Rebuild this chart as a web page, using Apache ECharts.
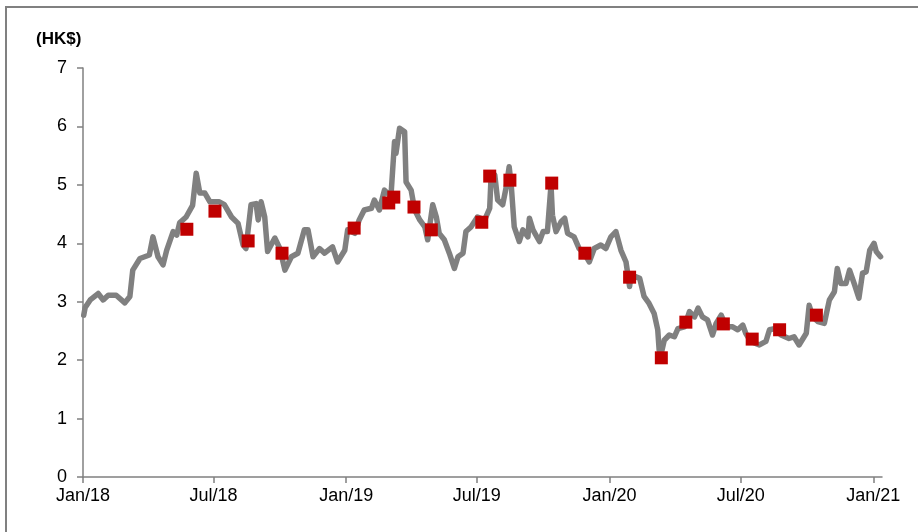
<!DOCTYPE html>
<html>
<head>
<meta charset="utf-8">
<script src="https://cdn.jsdelivr.net/npm/echarts@6/dist/echarts.min.js"></script>
<style>
  html, body { margin: 0; padding: 0; background: #fff; }
  #diagram { width: 918px; height: 532px; }
</style>
</head>
<body>
<div id="diagram"></div>
<script>
// share price (HK$)
var priceDates = [
  '2018-01-02','2018-01-04','2018-01-11','2018-01-22','2018-01-29','2018-02-05','2018-02-16','2018-02-28',
  '2018-03-07','2018-03-11','2018-03-21','2018-04-03','2018-04-08','2018-04-15','2018-04-22','2018-04-27',
  '2018-05-06','2018-05-11','2018-05-15','2018-05-24','2018-06-02','2018-06-07','2018-06-12','2018-06-19',
  '2018-06-26','2018-07-09','2018-07-16','2018-07-26','2018-08-04','2018-08-11','2018-08-15','2018-08-22',
  '2018-08-29','2018-09-01','2018-09-05','2018-09-10','2018-09-14','2018-09-24','2018-10-01','2018-10-08',
  '2018-10-17','2018-10-26','2018-11-04','2018-11-09','2018-11-16','2018-11-25','2018-12-02','2018-12-13',
  '2018-12-20','2018-12-30','2019-01-03','2019-01-13','2019-01-19','2019-01-26','2019-02-05','2019-02-09',
  '2019-02-16','2019-02-23','2019-03-04','2019-03-09','2019-03-11','2019-03-16','2019-03-23','2019-03-25',
  '2019-04-01','2019-04-06','2019-04-13','2019-04-20','2019-04-24','2019-05-01','2019-05-06','2019-05-10',
  '2019-05-17','2019-05-24','2019-05-31','2019-06-05','2019-06-12','2019-06-16','2019-06-23','2019-07-02',
  '2019-07-12','2019-07-19','2019-07-21','2019-07-26','2019-07-30','2019-08-06','2019-08-11','2019-08-15',
  '2019-08-18','2019-08-22','2019-08-29','2019-09-03','2019-09-10','2019-09-12','2019-09-17','2019-09-26',
  '2019-10-01','2019-10-07','2019-10-12','2019-10-14','2019-10-19','2019-10-26','2019-10-31','2019-11-04',
  '2019-11-13','2019-11-20','2019-11-27','2019-12-04','2019-12-11','2019-12-20','2019-12-27','2020-01-03',
  '2020-01-10','2020-01-17','2020-01-24','2020-01-29','2020-01-31','2020-02-12','2020-02-18','2020-02-25',
  '2020-03-03','2020-03-08','2020-03-10','2020-03-13','2020-03-17','2020-03-24','2020-03-31','2020-04-05',
  '2020-04-07','2020-04-14','2020-04-21','2020-04-28','2020-05-03','2020-05-09','2020-05-16','2020-05-23',
  '2020-05-28','2020-06-04','2020-06-11','2020-06-20','2020-06-27','2020-07-04','2020-07-08','2020-07-15',
  '2020-07-27','2020-08-05','2020-08-10','2020-08-17','2020-08-26','2020-09-06','2020-09-13','2020-09-20',
  '2020-09-30','2020-10-04','2020-10-09','2020-10-16','2020-10-25','2020-11-01','2020-11-08','2020-11-12',
  '2020-11-17','2020-11-24','2020-11-29','2020-12-06','2020-12-12','2020-12-17','2020-12-22','2020-12-27',
  '2021-01-02','2021-01-05','2021-01-11'
];
var priceValues = [
  2.77, 2.90, 3.03, 3.14, 3.03, 3.11, 3.11, 2.98,
  3.09, 3.54, 3.74, 3.80, 4.11, 3.77, 3.63, 3.88,
  4.20, 4.14, 4.35, 4.45, 4.65, 5.20, 4.86, 4.86,
  4.71, 4.71, 4.66, 4.45, 4.34, 3.97, 3.91, 4.66,
  4.68, 4.40, 4.71, 4.45, 3.86, 4.09, 3.91, 3.54,
  3.77, 3.83, 4.23, 4.23, 3.77, 3.91, 3.83, 3.94,
  3.68, 3.88, 4.23, 4.17, 4.40, 4.57, 4.60, 4.74,
  4.57, 4.91, 4.80, 5.74, 5.54, 5.97, 5.91, 5.05,
  4.91, 4.57, 4.40, 4.28, 4.06, 4.66, 4.45, 4.17,
  4.06, 3.83, 3.57, 3.77, 3.83, 4.20, 4.28, 4.45,
  4.40, 4.60, 5.17, 5.17, 4.74, 4.66, 4.97, 5.31,
  4.97, 4.28, 4.03, 4.23, 4.11, 4.43, 4.23, 4.03,
  4.20, 4.20, 5.00, 4.48, 4.20, 4.37, 4.43, 4.17,
  4.11, 3.91, 3.83, 3.68, 3.91, 3.97, 3.91, 4.11,
  4.20, 3.88, 3.68, 3.26, 3.46, 3.40, 3.09, 2.97,
  2.80, 2.52, 2.17, 2.12, 2.34, 2.43, 2.40, 2.54,
  2.52, 2.57, 2.83, 2.74, 2.89, 2.74, 2.69, 2.43,
  2.63, 2.77, 2.57, 2.57, 2.52, 2.60, 2.46, 2.32,
  2.26, 2.32, 2.52, 2.54, 2.43, 2.37, 2.40, 2.26,
  2.46, 2.94, 2.74, 2.66, 2.63, 3.03, 3.17, 3.57,
  3.31, 3.31, 3.54, 3.29, 3.06, 3.49, 3.51, 3.88,
  4.00, 3.86, 3.77
];

// red square markers
var markDates = [
  '2018-05-25','2018-07-03','2018-08-18','2018-10-04','2019-01-12','2019-03-01','2019-03-08',
  '2019-04-05','2019-04-29','2019-07-08','2019-07-19','2019-08-16','2019-10-13','2019-11-28',
  '2020-01-29','2020-03-13','2020-04-16','2020-06-07','2020-07-17','2020-08-24','2020-10-14'
];
var markValues = [
  4.24, 4.55, 4.04, 3.83, 4.26, 4.69, 4.79,
  4.62, 4.23, 4.36, 5.15, 5.08, 5.03, 3.83,
  3.42, 2.04, 2.65, 2.62, 2.36, 2.52, 2.77
];

var xTickDates = ['2018-01-01', '2018-07-01', '2019-01-01', '2019-07-01', '2020-01-01', '2020-07-01', '2021-01-01'];
var xTickLabels = ['Jan/18', 'Jul/18', 'Jan/19', 'Jul/19', 'Jan/20', 'Jul/20', 'Jan/21'];

// days since 1 Jan 2018
function toDay(s) {
  return (Date.parse(s) - Date.parse('2018-01-01')) / 86400000;
}
function pairs(dates, vals) {
  return dates.map(function (d, i) { return [toDay(d), vals[i]]; });
}
var xTickDays = xTickDates.map(toDay);

var myChart = echarts.init(document.getElementById('diagram'));
var fontFam = 'Liberation Sans, Arial, sans-serif';

var option = {
  animation: false,
  backgroundColor: '#fff',
  grid: { left: 83, right: 36, top: 68, bottom: 55 },
  graphic: [
    {
      type: 'rect',
      shape: { x: 6, y: 7, width: 930, height: 540 },
      style: { fill: 'none', stroke: '#808080', lineWidth: 2 }
    },
    {
      type: 'text',
      left: 36, top: 31,
      style: { text: '(HK$)', font: 'bold 17px ' + fontFam, fill: '#000' }
    }
  ],
  xAxis: {
    type: 'value',
    min: 0,
    max: 1108,
    axisLine: { lineStyle: { color: '#808080', width: 1.5 } },
    axisTick: { show: true, length: 6, customValues: xTickDays, lineStyle: { color: '#808080', width: 1.5 } },
    splitLine: { show: false },
    axisLabel: {
      margin: 10,
      color: '#000',
      fontSize: 18,
      fontFamily: fontFam,
      customValues: xTickDays,
      formatter: function (v) {
        var i = xTickDays.indexOf(v);
        return i >= 0 ? xTickLabels[i] : '';
      }
    }
  },
  yAxis: {
    type: 'value',
    min: 0,
    max: 7,
    interval: 1,
    axisLine: { show: true, lineStyle: { color: '#808080', width: 1.5 } },
    axisTick: { show: true, length: 6, lineStyle: { color: '#808080', width: 1.5 } },
    splitLine: { show: false },
    axisLabel: { margin: 16, color: '#000', fontSize: 18, fontFamily: fontFam }
  },
  series: [
    {
      type: 'line',
      data: pairs(priceDates, priceValues),
      showSymbol: false,
      lineStyle: { color: '#808080', width: 5.5, join: 'round', cap: 'round' },
      z: 2
    },
    {
      type: 'scatter',
      data: pairs(markDates, markValues),
      symbol: 'rect',
      symbolSize: 13,
      itemStyle: { color: '#C00000', opacity: 1 },
      z: 3
    }
  ]
};

myChart.setOption(option);
</script>
</body>
</html>
